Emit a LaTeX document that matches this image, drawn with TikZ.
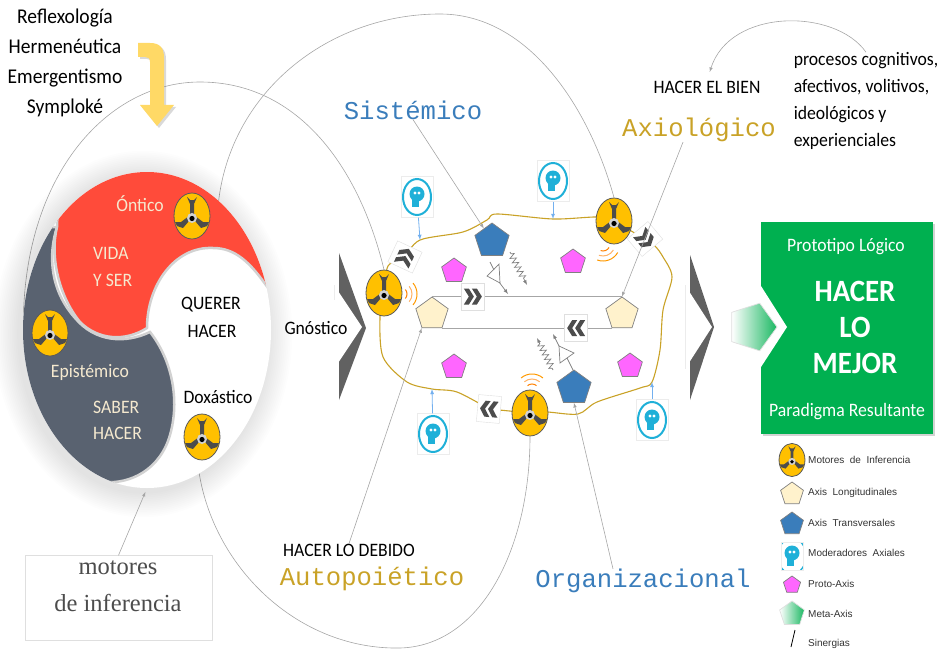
\documentclass[tikz,border=0pt]{standalone}
\usepackage{fontspec}
\setmainfont{Carlito}[FakeStretch=.93]
\newfontfamily\monofam{Liberation Mono}
\newfontfamily\serifam{Liberation Serif}
\newfontfamily\arialfam{Liberation Sans}
\usetikzlibrary{backgrounds,shapes.geometric,shadows,decorations.pathmorphing}

\definecolor{rojo}{HTML}{FF4B3A}
\definecolor{pizarra}{HTML}{596270}
\definecolor{crema}{HTML}{F5E9CF}
\definecolor{ambar}{HTML}{FFC000}
\definecolor{oro}{HTML}{C9A227}
\definecolor{azul}{HTML}{3A7DBB}
\definecolor{rosa}{HTML}{FF66FF}
\definecolor{cian}{HTML}{1FB0D8}
\definecolor{verde}{HTML}{00B050}
\definecolor{marfil}{HTML}{FFF2CC}
\definecolor{amarillo}{HTML}{FFD966}

\tikzset{
  txt/.style={inner sep=0,font=\fontsize{#1}{#1}\selectfont},
  mono/.style={inner sep=0,font=\monofam\fontsize{25.6}{26}\selectfont},
  leyenda/.style={inner sep=0,anchor=west,font=\arialfam\fontsize{10}{10}\selectfont,text=black!80},
  fina/.style={draw=gray!70,line width=.6pt},
  flecha/.style={fina,-latex},
  modera/.style={draw=blue!30!cian!60,line width=.8pt,-latex},
  lazo/.style={draw=oro,line width=1.1pt},
  eje/.style={regular polygon,regular polygon sides=5,inner sep=0,draw=gray,line width=.7pt,minimum size=2*#1},
  longi/.style={eje=#1,fill=marfil},
  trans/.style={eje=#1,fill=azul},
  proto/.style={eje=#1,fill=rosa},
  motor/.style={ellipse,inner sep=0,draw=black!65,line width=.8pt,fill=ambar,
    minimum width=36*#1,minimum height=46*#1},
  motor/.default=1,
  moderador/.style={rectangle,inner sep=0,draw=gray!15,fill=white,line width=.4pt,
    minimum width=32*#1,minimum height=41*#1,
    path picture={
      \begin{scope}[shift={(path picture bounding box.center)},scale=#1]
        \draw[cian,line width=2*#1] (0,0) ellipse (14 and 18);
        \fill[cian] (0,-3) circle (7.5);
        \fill[cian] (-5,0) rectangle (2,10);
        \fill[white] (-2,-4) circle (1.6) (2,-4) circle (1.6);
      \end{scope}}},
  moderador/.default=1,
  chevron/.style={rectangle,inner sep=0,draw=gray!25,fill=white,line width=.4pt,
    minimum width=23,minimum height=27,rotate=#1,
    path picture={
      \begin{scope}[shift={(path picture bounding box.center)},rotate=#1]
        \fill[black!70] (-9,-8) -- (-4,-8) -- (1,0) -- (-4,8) -- (-9,8) -- (-4,0) -- cycle;
        \fill[black!70] (-1,-8) -- (4,-8) -- (9,0) -- (4,8) -- (-1,8) -- (4,0) -- cycle;
      \end{scope}}},
  zigzag/.style={draw=gray,line width=.7pt,-latex,decorate,
    decoration={zigzag,amplitude=3pt,segment length=5pt,pre length=2pt,post length=6pt}},
}

% ondas de senal junto a un motor
\newcommand{\senal}[3]{
  \foreach \r/\c in {7/orange,12/orange!60,17/orange!80!yellow}
    \draw[\c,line width=1pt] (#1,#2) ++(#3-40:\r pt) arc[start angle=#3-40,end angle=#3+40,radius=\r pt];
}
% motor de inferencia: nombre, posicion, escala
\newcommand{\motorgir}[3]{
  \node[motor=#3] (#1) at (#2) {};
  \begin{scope}[shift={(#1.center)},scale=#3]
    \fill[black!70] (-2,0) -- (-2,-12) -- (-5,-19) -- (-2,-16) -- (2,-16) -- (5,-19) -- (2,-12) -- (2,0) -- cycle;
    \fill[black!70] (-3,0) -- (-11,6) -- (-17,6) -- (-15,10) -- (-9,12) -- (-3,5) -- cycle;
    \fill[black!70] (3,0) -- (11,6) -- (17,6) -- (15,10) -- (9,12) -- (3,5) -- cycle;
    \fill[gray!35] (0,2) circle (5);
    \fill[black] (0,2.5) circle (2.6);
  \end{scope}
}

\begin{document}
\begin{tikzpicture}[x=1pt,y=-1pt]
  \useasboundingbox (0,0) rectangle (947,650);

  % ovalo de la izquierda
  \foreach \s in {1,...,14}
    \fill[black,opacity=.008] (143,334) ellipse ({124+1.8*\s} and {158+1.8*\s});
  \node[ellipse,inner sep=0,fill=white,minimum width=248,minimum height=316] (ovalo) at (147,330) {};
  \begin{scope}
    \clip (147,330) ellipse (124 and 158);
    \draw[fill=pizarra,draw=gray!35,line width=2.5pt]
      (57,227) -- (0,227) -- (0,520) -- (100,520) -- (105,482) .. controls (130,484) and (160,470) .. (170,435)
      .. controls (180,400) and (172,360) .. (150,332) .. controls (125,344) and (95,342) .. (75,318)
      .. controls (50,290) and (48,255) .. (57,227) -- cycle;
    \draw[fill=rojo,draw=gray!35,line width=2.5pt]
      (57,227) -- (60,150) -- (300,150) -- (300,310) -- (268,288)
      .. controls (250,262) and (235,248) .. (213,248) .. controls (175,246) and (147,285) .. (147,328)
      .. controls (125,342) and (98,340) .. (80,322) .. controls (58,295) and (50,255) .. (57,227) -- cycle;
  \end{scope}

  % textos del ovalo
  \node[txt=21,align=center,font=\fontsize{21}{30}\selectfont] (metodos) at (65,63) {Reflexología\\Hermenéutica\\Emergentismo\\Symploké};
  \node[txt=19,text=crema] (ontico) at (140,204) {Óntico};
  \node[txt=19,text=crema,anchor=west] (vida) at (93,253) {VIDA};
  \node[txt=19,text=crema,anchor=west] (yser) at (93,280) {Y SER};
  \node[txt=19] (querer) at (211,305) {QUERER};
  \node[txt=19] (hacerQ) at (212,331) {HACER};
  \node[txt=19,text=crema] (epistemico) at (90,372) {Epistémico};
  \node[txt=19,text=crema,anchor=west] (saber) at (93,407) {SABER};
  \node[txt=19,text=crema,anchor=west] (hacerS) at (93,433) {HACER};
  \node[txt=19] (doxastico) at (218,397) {Doxástico};

  \motorgir{motorOntico}{192,216}{1}
  \motorgir{motorEpis}{50,333}{1}
  \motorgir{motorDox}{202,437}{1}

  % flecha amarilla
  \fill[amarillo,drop shadow={shadow xshift=2pt,shadow yshift=-2pt,opacity=.3}]
    (138,43) -- (150,43) .. controls (160,43) and (164,48) .. (164,58) -- (164,105) -- (174,105)
    -- (157,126) -- (140,105) -- (150,105) -- (150,62) .. controls (150,58) and (148,57) .. (145,57) -- (138,57) -- cycle;

  \node[draw=gray!25,line width=.4pt,minimum width=187,minimum height=85] (cajaMotores) at (118.5,598) {};
  \node[inner sep=0,align=center,text=black!70,font=\serifam\fontsize{24.5}{37}\selectfont] (textoMotores) at (118,586) {motores\\de inferencia};
  \draw[flecha,shorten >=4pt] (cajaMotores.north) -- (ovalo.south);

  % chevrones grandes
  \fill[black!62] (339,253) -- (366,328) -- (339,400) -- cycle;
  \fill[white] (334,285) -- (362,327) -- (334,369) -- cycle;
  \fill[white] (300,285) rectangle (334,369);
  \fill[black!62] (690,255) -- (714,327) -- (690,400) -- cycle;
  \fill[white] (685,285) -- (712,327) -- (685,369) -- cycle;
  \draw[gray!15,line width=.4pt] (685,285) -- (685,369) (334,285) -- (334,300);
  \node[txt=19] (gnostico) at (316,328) {Gnóstico};

  % caja verde
  \node[rectangle,inner sep=0,fill=verde,minimum width=172,minimum height=212,
    drop shadow={shadow xshift=1.5pt,shadow yshift=-1.5pt,opacity=.35}] (prototipo) at (847,328) {};
  \fill[white] (761,286) -- (787,327) -- (761,367) -- cycle;
  \node[eje=25,draw=gray!25,shape border rotate=-90,left color=white,right color=verde!90] (meta) at (752,327) {};
  \node[txt=19,text=white] (logico) at (846,247) {Prototipo Lógico};
  \node[txt=31,text=white,font=\bfseries\fontsize{31}{36}\selectfont,align=center] (mejor) at (855,327) {HACER\\LO\\MEJOR};
  \node[txt=19,text=white] (paradigma) at (847,412) {Paradigma Resultante};

  % ejes
  \node[longi=17] (lonIzq) at (432,314) {};
  \node[longi=17] (lonDer) at (622,314) {};
  \node[trans=18] (azulSup) at (492,241) {};
  \node[trans=18] (azulInf) at (574,388) {};
  \node[proto=13] (rosaA) at (454,271) {};
  \node[proto=13] (rosaB) at (573,262) {};
  \node[proto=13] (rosaC) at (454,367) {};
  \node[proto=13] (rosaD) at (630,366) {};

  \draw[fina,line width=.9pt] (lonIzq.north) -- node[chevron=0,pos=.215] (chevSup) {} (lonDer.north);
  \draw[fina,line width=.9pt] (lonIzq.corner 4) -- node[chevron=180,pos=.79] (chevInf) {} (lonDer.corner 3);

  % motores del centro
  \motorgir{motorIzq}{384,293}{1}
  \motorgir{motorSup}{614,221}{1}
  \motorgir{motorInf}{530,413}{1}
  \node[chevron=65] (chevA) at (405,257) {};
  \node[chevron=-50] (chevB) at (645,239) {};
  \node[chevron=175] (chevC) at (489,409) {};

  \senal{400}{294}{0}
  \senal{603}{244}{-70}
  \senal{532}{391}{90}

  % moderadores
  \node[moderador] (modA) at (417,197) {};
  \node[moderador] (modB) at (553,181) {};
  \node[moderador] (modC) at (433,434) {};
  \node[moderador] (modD) at (652,420) {};
  \coordinate (lazoA) at (420,240);
  \coordinate (lazoB) at (553,219);
  \coordinate (lazoC) at (432,389);
  \coordinate (lazoD) at (652,382);
  \draw[modera] (modA) -- (lazoA);
  \draw[modera] (modB) -- (lazoB);
  \draw[modera] (modC) -- (lazoC);
  \draw[modera] (modD) -- (lazoD);

  % sinergias
  \coordinate (triA) at (508,294);
  \fill[white] (487,276) -- (499,264) -- (500,283) -- cycle;
  \draw[draw=gray,line width=.7pt] (487,276) -- (499,264) -- (500,283) -- cycle;
  \draw[draw=gray,line width=.7pt] (490,262) -- (494,270);
  \draw[flecha,draw=gray,line width=.7pt] (499,282) -- (triA);
  \draw[zigzag] (510,252) -- (527,285);
  \draw[draw=gray,line width=.7pt] (559,346) -- (574,353) -- (560,363) -- cycle;
  \draw[draw=gray,line width=.7pt] (567,358) -- (573,370);
  \draw[flecha,draw=gray,line width=.7pt] (559,346) -- (553,334);
  \draw[zigzag] (553,370) -- (537,338);

  % rotulos
  \node[mono,text=azul] (sistemico) at (413,110) {Sistémico};
  \node[mono,text=oro] (axiologico) at (699,130) {Axiológico};
  \node[mono,text=oro] (autopoietico) at (372,579) {Autopoiético};
  \node[mono,text=azul] (organizacional) at (643,581) {Organizacional};
  \node[txt=19] (hacerBien) at (707,87) {HACER EL BIEN};
  \node[txt=19] (hacerDebido) at (349,550) {HACER LO DEBIDO};
  \node[inner sep=0,align=left,font=\fontsize{19}{27}\selectfont] (procesos) at (866,101) {procesos cognitivos,\\afectivos, volitivos,\\ideológicos y\\experienciales};

  \draw[flecha] (sistemico.south) -- (azulSup);
  \draw[flecha] ([xshift=-16pt]axiologico.south) -- (lonDer.north);
  \draw[flecha] (hacerDebido.north) -- (lonIzq.corner 3);
  \draw[flecha] ([xshift=-30pt]organizacional.north) -- (azulInf.south);
  \draw[flecha,shorten >=9pt] (procesos.north) .. controls (835,8) and (730,8) .. (hacerBien.north);

  % leyenda
  \motorgir{leyMotor}{792,460}{.72}
  \node[longi=12] (leyLongi) at (792,494) {};
  \node[trans=12] (leyTrans) at (792,524) {};
  \node[moderador=.68] (leyMod) at (792,556) {};
  \node[proto=9] (leyProto) at (792,585) {};
  \node[eje=13,draw=gray!25,left color=white,right color=verde!90] (leyMeta) at (792,614) {};
  \coordinate (sinA) at (795,630);
  \coordinate (sinB) at (791,647);
  \draw[black,line width=.8pt] (sinA) -- (sinB);
  \node[leyenda] (txtMotor) at (808,460) {Motores\ \ de\ \ Inferencia};
  \node[leyenda] (txtLongi) at (808,493) {Axis\ \ Longitudinales};
  \node[leyenda] (txtTrans) at (808,523) {Axis\ \ Transversales};
  \node[leyenda] (txtMod) at (808,553) {Moderadores\ \ Axiales};
  \node[leyenda] (txtProto) at (808,584) {Proto-Axis};
  \node[leyenda] (txtMeta) at (808,614) {Meta-Axis};
  \node[leyenda] (txtSin) at (808,644) {Sinergias};

  % arcos y lazo por detras
  \begin{pgfonlayer}{background}
    \draw[fina] (ovalo.172) .. controls (28,170) and (110,82) .. (200,82) .. controls (300,82) and (360,170) .. (motorIzq.north);
    \draw[fina] (ovalo.61) .. controls (232,90) and (330,14) .. (440,14) .. controls (530,14) and (590,110) .. (motorSup.north);
    \draw[fina] (ovalo.-70) .. controls (215,570) and (300,650) .. (400,648) .. controls (480,646) and (530,550) .. (motorInf.south);
    \draw[lazo] plot[smooth,tension=.5] coordinates {(motorIzq) (388,266) (chevA)};
    \draw[lazo] plot[smooth,tension=.5] coordinates {(chevA) (lazoA) (463,232) (487,220) (497,214) (lazoB) (597,217) (motorSup)};
    \draw[lazo] plot[smooth,tension=.5] coordinates {(motorSup) (chevB)};
    \draw[lazo] plot[smooth,tension=.5] coordinates {(chevB) (655,246) (663,257) (672,277) (663,310) (660,350) (lazoD) (640,388) (597,402) (578,414) (547,412) (motorInf)};
    \draw[lazo] plot[smooth,tension=.5] coordinates {(motorInf) (chevC)};
    \draw[lazo] plot[smooth,tension=.5] coordinates {(chevC) (457,392) (lazoC) (407,382) (383,357) (380,317) (motorIzq)};
  \end{pgfonlayer}
\end{tikzpicture}
\end{document}
